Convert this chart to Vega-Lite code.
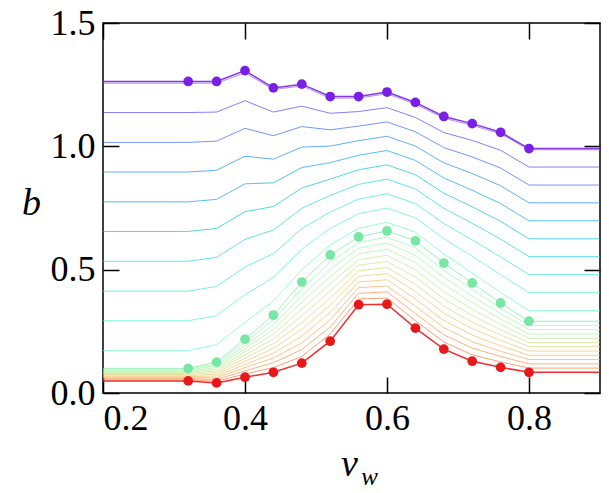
{
  "$schema": "https://vega.github.io/schema/vega-lite/v6.json",
  "width": 497,
  "height": 370,
  "autosize": "none",
  "padding": {"left": 103, "top": 23, "right": 9, "bottom": 100},
  "background": "white",
  "title": {"text": "w", "orient": "bottom", "anchor": "middle", "font": "Liberation Serif", "fontStyle": "italic", "fontWeight": "normal", "fontSize": 25, "color": "black", "dx": 18, "dy": -22},
  "data": {
    "values": [
      {"c":0,"x":0.2,"b":1.263},{"c":0,"x":0.32,"b":1.263},{"c":0,"x":0.36,"b":1.263},{"c":0,"x":0.4,"b":1.307},{"c":0,"x":0.44,"b":1.237},{"c":0,"x":0.48,"b":1.252},{"c":0,"x":0.52,"b":1.202},{"c":0,"x":0.56,"b":1.202},{"c":0,"x":0.6,"b":1.22},{"c":0,"x":0.64,"b":1.178},{"c":0,"x":0.68,"b":1.121},{"c":0,"x":0.72,"b":1.092},{"c":0,"x":0.76,"b":1.057},{"c":0,"x":0.8,"b":0.991},{"c":0,"x":0.9,"b":0.991},
      {"c":1,"x":0.2,"b":1.256},{"c":1,"x":0.32,"b":1.256},{"c":1,"x":0.36,"b":1.256},{"c":1,"x":0.4,"b":1.298},{"c":1,"x":0.44,"b":1.23},{"c":1,"x":0.48,"b":1.245},{"c":1,"x":0.52,"b":1.195},{"c":1,"x":0.56,"b":1.196},{"c":1,"x":0.6,"b":1.213},{"c":1,"x":0.64,"b":1.171},{"c":1,"x":0.68,"b":1.114},{"c":1,"x":0.72,"b":1.085},{"c":1,"x":0.76,"b":1.051},{"c":1,"x":0.8,"b":0.986},{"c":1,"x":0.9,"b":0.986},
      {"c":2,"x":0.2,"b":1.137},{"c":2,"x":0.32,"b":1.137},{"c":2,"x":0.36,"b":1.139},{"c":2,"x":0.4,"b":1.185},{"c":2,"x":0.44,"b":1.139},{"c":2,"x":0.48,"b":1.163},{"c":2,"x":0.52,"b":1.134},{"c":2,"x":0.56,"b":1.141},{"c":2,"x":0.6,"b":1.157},{"c":2,"x":0.64,"b":1.117},{"c":2,"x":0.68,"b":1.056},{"c":2,"x":0.72,"b":1.024},{"c":2,"x":0.76,"b":0.984},{"c":2,"x":0.8,"b":0.916},{"c":2,"x":0.9,"b":0.916},
      {"c":3,"x":0.2,"b":1.016},{"c":3,"x":0.32,"b":1.016},{"c":3,"x":0.36,"b":1.021},{"c":3,"x":0.4,"b":1.073},{"c":3,"x":0.44,"b":1.043},{"c":3,"x":0.48,"b":1.08},{"c":3,"x":0.52,"b":1.067},{"c":3,"x":0.56,"b":1.082},{"c":3,"x":0.6,"b":1.099},{"c":3,"x":0.64,"b":1.059},{"c":3,"x":0.68,"b":0.995},{"c":3,"x":0.72,"b":0.957},{"c":3,"x":0.76,"b":0.912},{"c":3,"x":0.8,"b":0.843},{"c":3,"x":0.9,"b":0.843},
      {"c":4,"x":0.2,"b":0.896},{"c":4,"x":0.32,"b":0.896},{"c":4,"x":0.36,"b":0.903},{"c":4,"x":0.4,"b":0.96},{"c":4,"x":0.44,"b":0.948},{"c":4,"x":0.48,"b":0.997},{"c":4,"x":0.52,"b":1.001},{"c":4,"x":0.56,"b":1.023},{"c":4,"x":0.6,"b":1.041},{"c":4,"x":0.64,"b":1.001},{"c":4,"x":0.68,"b":0.933},{"c":4,"x":0.72,"b":0.89},{"c":4,"x":0.76,"b":0.84},{"c":4,"x":0.8,"b":0.771},{"c":4,"x":0.9,"b":0.771},
      {"c":5,"x":0.2,"b":0.775},{"c":5,"x":0.32,"b":0.775},{"c":5,"x":0.36,"b":0.785},{"c":5,"x":0.4,"b":0.848},{"c":5,"x":0.44,"b":0.852},{"c":5,"x":0.48,"b":0.914},{"c":5,"x":0.52,"b":0.934},{"c":5,"x":0.56,"b":0.964},{"c":5,"x":0.6,"b":0.983},{"c":5,"x":0.64,"b":0.943},{"c":5,"x":0.68,"b":0.872},{"c":5,"x":0.72,"b":0.822},{"c":5,"x":0.76,"b":0.768},{"c":5,"x":0.8,"b":0.698},{"c":5,"x":0.9,"b":0.698},
      {"c":6,"x":0.2,"b":0.655},{"c":6,"x":0.32,"b":0.655},{"c":6,"x":0.36,"b":0.667},{"c":6,"x":0.4,"b":0.735},{"c":6,"x":0.44,"b":0.756},{"c":6,"x":0.48,"b":0.831},{"c":6,"x":0.52,"b":0.867},{"c":6,"x":0.56,"b":0.905},{"c":6,"x":0.6,"b":0.925},{"c":6,"x":0.64,"b":0.885},{"c":6,"x":0.68,"b":0.81},{"c":6,"x":0.72,"b":0.755},{"c":6,"x":0.76,"b":0.696},{"c":6,"x":0.8,"b":0.625},{"c":6,"x":0.9,"b":0.625},
      {"c":7,"x":0.2,"b":0.534},{"c":7,"x":0.32,"b":0.534},{"c":7,"x":0.36,"b":0.55},{"c":7,"x":0.4,"b":0.623},{"c":7,"x":0.44,"b":0.661},{"c":7,"x":0.48,"b":0.749},{"c":7,"x":0.52,"b":0.801},{"c":7,"x":0.56,"b":0.846},{"c":7,"x":0.6,"b":0.867},{"c":7,"x":0.64,"b":0.827},{"c":7,"x":0.68,"b":0.749},{"c":7,"x":0.72,"b":0.688},{"c":7,"x":0.76,"b":0.624},{"c":7,"x":0.8,"b":0.553},{"c":7,"x":0.9,"b":0.553},
      {"c":8,"x":0.2,"b":0.413},{"c":8,"x":0.32,"b":0.413},{"c":8,"x":0.36,"b":0.432},{"c":8,"x":0.4,"b":0.511},{"c":8,"x":0.44,"b":0.565},{"c":8,"x":0.48,"b":0.666},{"c":8,"x":0.52,"b":0.734},{"c":8,"x":0.56,"b":0.786},{"c":8,"x":0.6,"b":0.808},{"c":8,"x":0.64,"b":0.768},{"c":8,"x":0.68,"b":0.687},{"c":8,"x":0.72,"b":0.621},{"c":8,"x":0.76,"b":0.552},{"c":8,"x":0.8,"b":0.48},{"c":8,"x":0.9,"b":0.48},
      {"c":9,"x":0.2,"b":0.293},{"c":9,"x":0.32,"b":0.293},{"c":9,"x":0.36,"b":0.314},{"c":9,"x":0.4,"b":0.398},{"c":9,"x":0.44,"b":0.469},{"c":9,"x":0.48,"b":0.583},{"c":9,"x":0.52,"b":0.667},{"c":9,"x":0.56,"b":0.727},{"c":9,"x":0.6,"b":0.75},{"c":9,"x":0.64,"b":0.71},{"c":9,"x":0.68,"b":0.626},{"c":9,"x":0.72,"b":0.554},{"c":9,"x":0.76,"b":0.48},{"c":9,"x":0.8,"b":0.407},{"c":9,"x":0.9,"b":0.407},
      {"c":10,"x":0.2,"b":0.172},{"c":10,"x":0.32,"b":0.172},{"c":10,"x":0.36,"b":0.196},{"c":10,"x":0.4,"b":0.286},{"c":10,"x":0.44,"b":0.373},{"c":10,"x":0.48,"b":0.5},{"c":10,"x":0.52,"b":0.6},{"c":10,"x":0.56,"b":0.668},{"c":10,"x":0.6,"b":0.692},{"c":10,"x":0.64,"b":0.652},{"c":10,"x":0.68,"b":0.564},{"c":10,"x":0.72,"b":0.486},{"c":10,"x":0.76,"b":0.408},{"c":10,"x":0.8,"b":0.334},{"c":10,"x":0.9,"b":0.334},
      {"c":11,"x":0.2,"b":0.1},{"c":11,"x":0.32,"b":0.1},{"c":11,"x":0.36,"b":0.125},{"c":11,"x":0.4,"b":0.218},{"c":11,"x":0.44,"b":0.316},{"c":11,"x":0.48,"b":0.45},{"c":11,"x":0.52,"b":0.56},{"c":11,"x":0.56,"b":0.633},{"c":11,"x":0.6,"b":0.657},{"c":11,"x":0.64,"b":0.617},{"c":11,"x":0.68,"b":0.527},{"c":11,"x":0.72,"b":0.446},{"c":11,"x":0.76,"b":0.365},{"c":11,"x":0.8,"b":0.291},{"c":11,"x":0.9,"b":0.291},
      {"c":12,"x":0.2,"b":0.096},{"c":12,"x":0.32,"b":0.096},{"c":12,"x":0.36,"b":0.118},{"c":12,"x":0.4,"b":0.205},{"c":12,"x":0.44,"b":0.297},{"c":12,"x":0.48,"b":0.423},{"c":12,"x":0.52,"b":0.531},{"c":12,"x":0.56,"b":0.61},{"c":12,"x":0.6,"b":0.632},{"c":12,"x":0.64,"b":0.588},{"c":12,"x":0.68,"b":0.498},{"c":12,"x":0.72,"b":0.42},{"c":12,"x":0.76,"b":0.343},{"c":12,"x":0.8,"b":0.274},{"c":12,"x":0.9,"b":0.274},
      {"c":13,"x":0.2,"b":0.092},{"c":13,"x":0.32,"b":0.092},{"c":13,"x":0.36,"b":0.111},{"c":13,"x":0.4,"b":0.192},{"c":13,"x":0.44,"b":0.277},{"c":13,"x":0.48,"b":0.395},{"c":13,"x":0.52,"b":0.502},{"c":13,"x":0.56,"b":0.587},{"c":13,"x":0.6,"b":0.608},{"c":13,"x":0.64,"b":0.558},{"c":13,"x":0.68,"b":0.469},{"c":13,"x":0.72,"b":0.393},{"c":13,"x":0.76,"b":0.322},{"c":13,"x":0.8,"b":0.257},{"c":13,"x":0.9,"b":0.257},
      {"c":14,"x":0.2,"b":0.087},{"c":14,"x":0.32,"b":0.087},{"c":14,"x":0.36,"b":0.104},{"c":14,"x":0.4,"b":0.18},{"c":14,"x":0.44,"b":0.258},{"c":14,"x":0.48,"b":0.368},{"c":14,"x":0.52,"b":0.472},{"c":14,"x":0.56,"b":0.564},{"c":14,"x":0.6,"b":0.583},{"c":14,"x":0.64,"b":0.529},{"c":14,"x":0.68,"b":0.44},{"c":14,"x":0.72,"b":0.367},{"c":14,"x":0.76,"b":0.3},{"c":14,"x":0.8,"b":0.239},{"c":14,"x":0.9,"b":0.239},
      {"c":15,"x":0.2,"b":0.083},{"c":15,"x":0.32,"b":0.083},{"c":15,"x":0.36,"b":0.097},{"c":15,"x":0.4,"b":0.167},{"c":15,"x":0.44,"b":0.239},{"c":15,"x":0.48,"b":0.34},{"c":15,"x":0.52,"b":0.443},{"c":15,"x":0.56,"b":0.541},{"c":15,"x":0.6,"b":0.558},{"c":15,"x":0.64,"b":0.499},{"c":15,"x":0.68,"b":0.411},{"c":15,"x":0.72,"b":0.34},{"c":15,"x":0.76,"b":0.278},{"c":15,"x":0.8,"b":0.222},{"c":15,"x":0.9,"b":0.222},
      {"c":16,"x":0.2,"b":0.079},{"c":16,"x":0.32,"b":0.079},{"c":16,"x":0.36,"b":0.09},{"c":16,"x":0.4,"b":0.154},{"c":16,"x":0.44,"b":0.219},{"c":16,"x":0.48,"b":0.313},{"c":16,"x":0.52,"b":0.414},{"c":16,"x":0.56,"b":0.518},{"c":16,"x":0.6,"b":0.533},{"c":16,"x":0.64,"b":0.47},{"c":16,"x":0.68,"b":0.382},{"c":16,"x":0.72,"b":0.314},{"c":16,"x":0.76,"b":0.256},{"c":16,"x":0.8,"b":0.205},{"c":16,"x":0.9,"b":0.205},
      {"c":17,"x":0.2,"b":0.075},{"c":17,"x":0.32,"b":0.075},{"c":17,"x":0.36,"b":0.083},{"c":17,"x":0.4,"b":0.141},{"c":17,"x":0.44,"b":0.2},{"c":17,"x":0.48,"b":0.285},{"c":17,"x":0.52,"b":0.385},{"c":17,"x":0.56,"b":0.495},{"c":17,"x":0.6,"b":0.509},{"c":17,"x":0.64,"b":0.44},{"c":17,"x":0.68,"b":0.352},{"c":17,"x":0.72,"b":0.287},{"c":17,"x":0.76,"b":0.235},{"c":17,"x":0.8,"b":0.188},{"c":17,"x":0.9,"b":0.188},
      {"c":18,"x":0.2,"b":0.07},{"c":18,"x":0.32,"b":0.07},{"c":18,"x":0.36,"b":0.076},{"c":18,"x":0.4,"b":0.128},{"c":18,"x":0.44,"b":0.181},{"c":18,"x":0.48,"b":0.258},{"c":18,"x":0.52,"b":0.356},{"c":18,"x":0.56,"b":0.473},{"c":18,"x":0.6,"b":0.484},{"c":18,"x":0.64,"b":0.411},{"c":18,"x":0.68,"b":0.323},{"c":18,"x":0.72,"b":0.261},{"c":18,"x":0.76,"b":0.213},{"c":18,"x":0.8,"b":0.17},{"c":18,"x":0.9,"b":0.17},
      {"c":19,"x":0.2,"b":0.066},{"c":19,"x":0.32,"b":0.066},{"c":19,"x":0.36,"b":0.069},{"c":19,"x":0.4,"b":0.115},{"c":19,"x":0.44,"b":0.161},{"c":19,"x":0.48,"b":0.231},{"c":19,"x":0.52,"b":0.327},{"c":19,"x":0.56,"b":0.45},{"c":19,"x":0.6,"b":0.459},{"c":19,"x":0.64,"b":0.381},{"c":19,"x":0.68,"b":0.294},{"c":19,"x":0.72,"b":0.235},{"c":19,"x":0.76,"b":0.191},{"c":19,"x":0.8,"b":0.153},{"c":19,"x":0.9,"b":0.153},
      {"c":20,"x":0.2,"b":0.062},{"c":20,"x":0.32,"b":0.062},{"c":20,"x":0.36,"b":0.062},{"c":20,"x":0.4,"b":0.103},{"c":20,"x":0.44,"b":0.142},{"c":20,"x":0.48,"b":0.203},{"c":20,"x":0.52,"b":0.297},{"c":20,"x":0.56,"b":0.427},{"c":20,"x":0.6,"b":0.434},{"c":20,"x":0.64,"b":0.352},{"c":20,"x":0.68,"b":0.265},{"c":20,"x":0.72,"b":0.208},{"c":20,"x":0.76,"b":0.169},{"c":20,"x":0.8,"b":0.136},{"c":20,"x":0.9,"b":0.136},
      {"c":21,"x":0.2,"b":0.058},{"c":21,"x":0.32,"b":0.058},{"c":21,"x":0.36,"b":0.055},{"c":21,"x":0.4,"b":0.09},{"c":21,"x":0.44,"b":0.123},{"c":21,"x":0.48,"b":0.176},{"c":21,"x":0.52,"b":0.268},{"c":21,"x":0.56,"b":0.404},{"c":21,"x":0.6,"b":0.41},{"c":21,"x":0.64,"b":0.322},{"c":21,"x":0.68,"b":0.236},{"c":21,"x":0.72,"b":0.182},{"c":21,"x":0.76,"b":0.148},{"c":21,"x":0.8,"b":0.118},{"c":21,"x":0.9,"b":0.118},
      {"c":22,"x":0.2,"b":0.053},{"c":22,"x":0.32,"b":0.053},{"c":22,"x":0.36,"b":0.048},{"c":22,"x":0.4,"b":0.077},{"c":22,"x":0.44,"b":0.103},{"c":22,"x":0.48,"b":0.148},{"c":22,"x":0.52,"b":0.239},{"c":22,"x":0.56,"b":0.381},{"c":22,"x":0.6,"b":0.385},{"c":22,"x":0.64,"b":0.293},{"c":22,"x":0.68,"b":0.207},{"c":22,"x":0.72,"b":0.155},{"c":22,"x":0.76,"b":0.126},{"c":22,"x":0.8,"b":0.101},{"c":22,"x":0.9,"b":0.101},
      {"c":23,"x":0.2,"b":0.049},{"c":23,"x":0.32,"b":0.049},{"c":23,"x":0.36,"b":0.041},{"c":23,"x":0.4,"b":0.064},{"c":23,"x":0.44,"b":0.084},{"c":23,"x":0.48,"b":0.121},{"c":23,"x":0.52,"b":0.21},{"c":23,"x":0.56,"b":0.358},{"c":23,"x":0.6,"b":0.36},{"c":23,"x":0.64,"b":0.263},{"c":23,"x":0.68,"b":0.178},{"c":23,"x":0.72,"b":0.129},{"c":23,"x":0.76,"b":0.104},{"c":23,"x":0.8,"b":0.084},{"c":23,"x":0.9,"b":0.084}
    ]
  },
  "layer": [
    {
      "transform": [{"filter": {"not": {"field": "c", "oneOf": [0, 23]}}}],
      "mark": {"type": "line", "strokeWidth": 1, "opacity": 0.7},
      "encoding": {
        "x": {"field": "x", "type": "quantitative", "scale": {"domain": [0.2, 0.9], "nice": false, "zero": false}, "axis": {"orient": "bottom", "values": [0.2, 0.4, 0.6, 0.8], "format": ".1f", "offset": -16, "tickSize": 16, "domain": true, "domainOpacity": 0, "labelPadding": 8, "title": "v", "titleX": 246, "titleY": 98, "titleAlign": "center", "titleBaseline": "alphabetic"}},
        "y": {"field": "b", "type": "quantitative", "scale": {"domain": [0, 1.5], "nice": false, "zero": false}, "axis": {"orient": "left", "values": [0, 0.5, 1, 1.5], "format": ".1f", "offset": -16, "tickSize": 16, "domain": true, "domainOpacity": 0, "labelPadding": 8, "title": "b", "titleAngle": 0, "titleX": -88, "titleY": 191, "titleAlign": "center", "titleBaseline": "alphabetic"}},
        "color": {
          "field": "c", "type": "ordinal", "legend": null,
          "scale": {
            "domain": [0,1,2,3,4,5,6,7,8,9,10,11,12,13,14,15,16,17,18,19,20,21,22,23],
            "range": ["#7a1fe6","#8a63f2","#5148fc","#3a6af9","#238af5","#0ca7ef","#0cc1e8","#23d7e0","#3ae8d7","#51f5cc","#68fcc1","#78e6a4","#8ffeac","#9efaa2","#adf599","#bded8f","#cce385","#dbd77b","#ebc970","#faba65","#ffa95a","#ff8f4b","#ff743b","#e8181a"]
          }
        }
      }
    },
    {
      "transform": [{"filter": {"field": "c", "oneOf": [0, 23]}}],
      "mark": {"type": "line", "strokeWidth": 1.5, "opacity": 0.9},
      "encoding": {
        "x": {"field": "x", "type": "quantitative", "axis": {"orient": "top", "values": [0.2, 0.4, 0.6, 0.8], "offset": -16, "tickSize": 16, "domain": true, "domainOpacity": 0, "labels": false, "title": null}},
        "y": {"field": "b", "type": "quantitative", "axis": {"orient": "right", "values": [0, 0.5, 1, 1.5], "offset": -16, "tickSize": 16, "domain": true, "domainOpacity": 0, "labels": false, "title": null}},
        "color": {"field": "c", "type": "ordinal", "legend": null}
      }
    },
    {
      "transform": [{"filter": {"field": "c", "oneOf": [0, 11, 23]}}, {"filter": {"field": "x", "range": [0.3, 0.85]}}],
      "mark": {"type": "point", "filled": true, "size": 95, "opacity": 1},
      "encoding": {
        "x": {"field": "x", "type": "quantitative", "axis": null},
        "y": {"field": "b", "type": "quantitative", "axis": null},
        "color": {"field": "c", "type": "ordinal", "legend": null}
      }
    }
  ],
  "resolve": {"axis": {"x": "independent", "y": "independent"}},
  "config": {
    "view": {"stroke": "black", "strokeWidth": 1.5},
    "axis": {
      "grid": false,
      "ticks": true,
      "tickColor": "black",
      "tickWidth": 1.5,
      "tickOpacity": 1,
      "labelFont": "Liberation Serif",
      "labelFontSize": 36,
      "labelColor": "black",
      "titleFont": "Liberation Serif",
      "titleFontStyle": "italic",
      "titleFontWeight": "normal",
      "titleFontSize": 38,
      "titleColor": "black"
    }
  }
}
